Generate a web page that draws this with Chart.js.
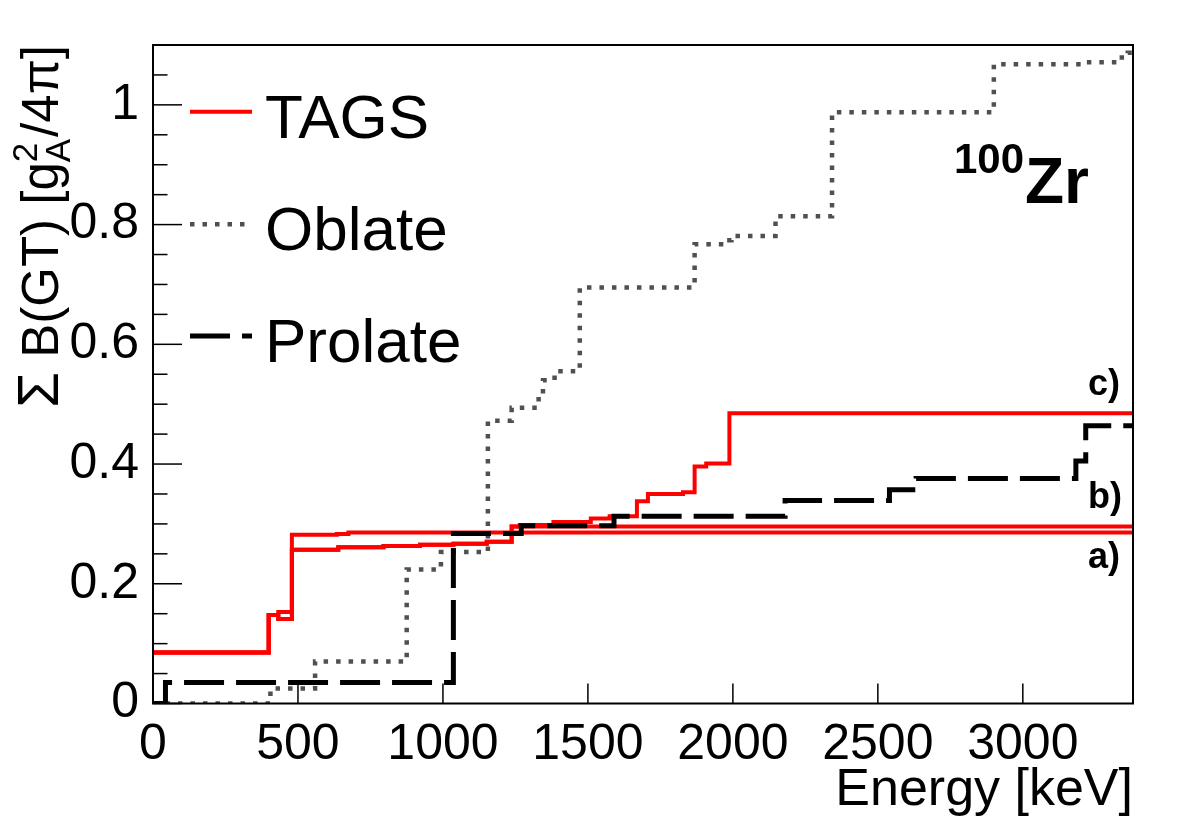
<!DOCTYPE html>
<html><head><meta charset="utf-8">
<script src="https://cdn.jsdelivr.net/npm/chart.js@4.4.1/dist/chart.umd.min.js"></script>
<style>html,body{margin:0;padding:0;background:#fff;} #wrap{width:1182px;height:819px;}</style>
</head><body><div id="wrap"><canvas id="c" width="1182" height="819"></canvas></div>
<script>
const FONT = '"Liberation Sans", Arial, Helvetica, sans-serif';

// axis ticks
const xTickValues = [0, 500, 1000, 1500, 2000, 2500, 3000];
const yTickValues = [0, 0.2, 0.4, 0.6, 0.8, 1];
const yTickLabels = ["0", "0.2", "0.4", "0.6", "0.8", "1"];
const xMin = 0, xMax = 3380, yMin = 0, yMax = 1.1;

// TAGS a) (upper TAGS curve, energy in keV, cumulative B(GT))
const tagsA_E = [0, 399, 432, 479, 634, 674, 3380];
const tagsA_B = [0.085, 0.148, 0.153, 0.282, 0.283, 0.2855, 0.2855];

// TAGS b)
const tagsB_E = [0, 399, 432, 479, 639, 795, 921, 1036, 1151, 1237, 3380];
const tagsB_B = [0.085, 0.148, 0.141, 0.257, 0.261, 0.263, 0.265, 0.267, 0.270, 0.2955, 0.2955];

// TAGS c)
const tagsC_E = [0, 399, 432, 479, 639, 795, 921, 1036, 1151, 1237, 1265, 1381, 1510, 1575, 1669, 1707, 1828, 1868, 1908, 1988, 3380];
const tagsC_B = [0.085, 0.148, 0.141, 0.257, 0.261, 0.263, 0.265, 0.267, 0.270, 0.2955, 0.298, 0.303, 0.309, 0.313, 0.338, 0.350, 0.353, 0.396, 0.401, 0.485, 0.485];

// Oblate calculation
const oblateE = [0, 405, 559, 875, 993, 1155, 1237, 1330, 1345, 1385, 1472, 1868, 1980, 1995, 2147, 2342, 2900, 3205, 3330, 3362, 3380];
const oblateB = [0, 0.025, 0.070, 0.224, 0.253, 0.4725, 0.494, 0.515, 0.540, 0.555, 0.695, 0.767, 0.774, 0.781, 0.814, 0.9875, 1.068, 1.071, 1.079, 1.087, 1.087];

// Prolate calculation
const prolateE = [0, 43, 1036, 1270, 1590, 2180, 2540, 2632, 3183, 3217, 3380];
const prolateB = [0, 0.035, 0.284, 0.297, 0.313, 0.339, 0.357, 0.376, 0.405, 0.464, 0.464];

function pts(E, B) { return E.map((e, i) => ({ x: e, y: B[i] })); }

const common = { stepped: true, pointRadius: 0, pointHoverRadius: 0, fill: false, borderCapStyle: 'butt', borderJoinStyle: 'miter', tension: 0 };
const datasets = [
  Object.assign({ label: 'Prolate', data: pts(prolateE, prolateB), borderColor: '#000000', borderWidth: 5, borderDash: [40, 12], order: 1 }, common),
  Object.assign({ label: 'Oblate', data: pts(oblateE, oblateB), borderColor: '#505050', borderWidth: 4.5, borderDash: [4.5, 8], order: 2 }, common),
  Object.assign({ label: 'TAGS a)', data: pts(tagsA_E, tagsA_B), borderColor: '#ff0000', borderWidth: 4, order: 3 }, common),
  Object.assign({ label: 'TAGS b)', data: pts(tagsB_E, tagsB_B), borderColor: '#ff0000', borderWidth: 4, order: 3 }, common),
  Object.assign({ label: 'TAGS c)', data: pts(tagsC_E, tagsC_B), borderColor: '#ff0000', borderWidth: 4, order: 3 }, common)
];

function line(ctx, x1, y1, x2, y2) { ctx.beginPath(); ctx.moveTo(x1, y1); ctx.lineTo(x2, y2); ctx.stroke(); }

const deco = {
  id: 'deco',
  afterDatasetsDraw(chart) {
    const { ctx, chartArea: a, scales: { x, y } } = chart;
    ctx.save();
    ctx.strokeStyle = '#000'; ctx.lineWidth = 1.5;
    for (let i = 0; i <= 22; i++) {
      const v = i * 0.05;
      if (v > yMax + 1e-9) break;
      const major = i % 4 === 0;
      const py = y.getPixelForValue(v);
      line(ctx, a.left, py, a.left + (major ? 29 : 14.5), py);
    }
    xTickValues.forEach(v => { const px = x.getPixelForValue(v); line(ctx, px, a.bottom, px, a.bottom - 20); });
    ctx.lineWidth = 2;
    ctx.strokeRect(a.left, a.top, a.right - a.left, a.bottom - a.top);
    ctx.restore();
  },
  afterDraw(chart) {
    const { ctx, chartArea: a } = chart;
    ctx.save();
    ctx.fillStyle = '#000';
    // legend
    ctx.lineCap = 'butt';
    ctx.strokeStyle = '#ff0000'; ctx.lineWidth = 4; ctx.setLineDash([]);
    line(ctx, 190, 111.7, 252, 111.7);
    ctx.strokeStyle = '#505050'; ctx.lineWidth = 4.5; ctx.setLineDash([4.5, 8]);
    line(ctx, 190, 224.3, 252, 224.3);
    ctx.strokeStyle = '#000'; ctx.lineWidth = 5; ctx.setLineDash([40, 12]);
    line(ctx, 190, 336, 252, 336);
    ctx.setLineDash([]);
    ctx.font = '62px ' + FONT; ctx.textAlign = 'left'; ctx.textBaseline = 'alphabetic';
    ctx.fillText('TAGS', 265, 138);
    ctx.fillText('Oblate', 265, 250);
    ctx.fillText('Prolate', 265, 362);

    // nucleus label
    ctx.font = 'bold 64px ' + FONT;
    ctx.fillText('Zr', 1025, 203);
    ctx.font = 'bold 42px ' + FONT; ctx.textAlign = 'right';
    ctx.fillText('100', 1024, 173);

    // curve labels
    ctx.font = 'bold 36px ' + FONT; ctx.textAlign = 'left';
    ctx.fillText('c)', 1088, 395);
    ctx.fillText('b)', 1088, 508);
    ctx.fillText('a)', 1088, 568);

    // x title
    ctx.font = '52px ' + FONT; ctx.textAlign = 'right';
    ctx.fillText('Energy [keV]', a.right, 805);

    // y title (rotated)
    ctx.save();
    ctx.translate(58, a.top);
    ctx.rotate(-Math.PI / 2);
    ctx.textAlign = 'left';
    const sig = '58px ' + FONT, big = '51px ' + FONT, small = '35px ' + FONT;
    ctx.font = sig; const t0 = 'Σ'; const w0 = ctx.measureText(t0).width;
    ctx.font = big; const t1 = ' B(GT) [g'; const w1 = ctx.measureText(t1).width;
    ctx.font = small; const ws = Math.max(ctx.measureText('2').width, ctx.measureText('A').width);
    ctx.font = big; const t3 = '/4π]'; const w3 = ctx.measureText(t3).width;
    let x0 = -(w0 + w1 + ws + w3 + 2);
    ctx.font = sig; ctx.fillText(t0, x0, 0); x0 += w0;
    ctx.font = big; ctx.fillText(t1, x0, 0); x0 += w1;
    ctx.font = small; ctx.fillText('2', x0, -21); ctx.fillText('A', x0, 12); x0 += ws + 2;
    ctx.font = big; ctx.fillText(t3, x0, 0);
    ctx.restore();
    ctx.restore();
  }
};

new Chart(document.getElementById('c'), {
  type: 'line',
  data: { datasets },
  options: {
    responsive: false, animation: false, devicePixelRatio: 1,
    layout: { padding: { left: 0, right: 49, top: 45, bottom: 0 } },
    plugins: { legend: { display: false }, tooltip: { enabled: false } },
    scales: {
      x: {
        type: 'linear', min: xMin, max: xMax,
        grid: { display: false }, border: { display: false },
        ticks: { font: { family: FONT, size: 50 }, color: '#000', padding: 4, maxRotation: 0, autoSkip: false, callback: v => String(v) },
        afterBuildTicks: s => { s.ticks = xTickValues.map(v => ({ value: v })); },
        afterFit: s => { s.height = 115.5; }
      },
      y: {
        type: 'linear', min: yMin, max: yMax,
        grid: { display: false }, border: { display: false },
        ticks: { font: { family: FONT, size: 50 }, color: '#000', padding: 6, autoSkip: false,
          callback: v => { const i = yTickValues.findIndex(t => Math.abs(t - v) < 1e-9); return i >= 0 ? yTickLabels[i] : ''; } },
        afterBuildTicks: s => { s.ticks = yTickValues.map(v => ({ value: v })); },
        afterFit: s => { s.width = 153; }
      }
    }
  },
  plugins: [deco]
});
</script>
</body></html>
